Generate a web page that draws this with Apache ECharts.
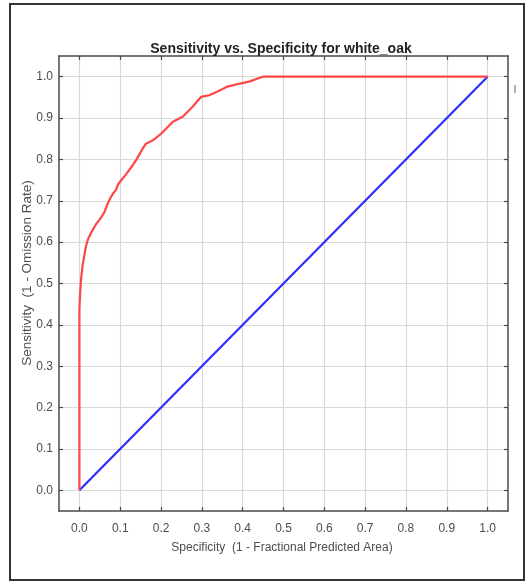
<!DOCTYPE html>
<html>
<head>
<meta charset="utf-8">
<script src="https://cdn.jsdelivr.net/npm/echarts@6/dist/echarts.min.js"></script>
<style>html,body{margin:0;padding:0;background:#fff}#c{width:527px;height:582px}</style>
</head>
<body>
<div id="c"></div>
<script>
const tickValues = [0, 0.1, 0.2, 0.3, 0.4, 0.5, 0.6, 0.7, 0.8, 0.9, 1.0];
const rocX = [0, 0, 0.002, 0.004, 0.008, 0.012, 0.016, 0.021, 0.03, 0.041, 0.05, 0.061, 0.068, 0.075, 0.082, 0.09, 0.095, 0.102, 0.115, 0.127, 0.14, 0.155, 0.163, 0.18, 0.2, 0.229, 0.253, 0.275, 0.298, 0.318, 0.34, 0.363, 0.396, 0.416, 0.449, 1.0];
const rocY = [0, 0.44, 0.48, 0.51, 0.545, 0.567, 0.59, 0.607, 0.625, 0.644, 0.655, 0.672, 0.69, 0.705, 0.717, 0.727, 0.74, 0.749, 0.765, 0.781, 0.80, 0.826, 0.838, 0.846, 0.862, 0.891, 0.903, 0.925, 0.951, 0.955, 0.965, 0.976, 0.984, 0.988, 1.0, 1.0];
const randomX = [0, 1];
const randomY = [0, 1];

const chart = echarts.init(document.getElementById('c'), null, {renderer: 'canvas'});
const axisColor = '#4a4a4a';
const FONT = 'Liberation Sans, Arial, sans-serif';
const labelFont = {color: '#4d4d4d', fontSize: 12, fontFamily: FONT};
function mkAxis(pos, showLabel, showSplit) {
  return {
    type: 'value', position: pos, min: -0.05, max: 1.05,
    axisLine: {show: true, onZero: false, lineStyle: {color: axisColor, width: 1.5}},
    axisTick: {show: true, inside: true, length: 4, customValues: tickValues, lineStyle: {color: axisColor, width: 1.2}},
    axisLabel: {show: showLabel, customValues: tickValues, formatter: v => v.toFixed(1), ...labelFont,
      margin: pos === 'bottom' ? 12 : 6},
    splitLine: {show: showSplit, lineStyle: {color: '#d9d9d9', width: 1.2}}
  };
}
chart.setOption({
  animation: false,
  backgroundColor: '#fff',
  grid: {left: 59, right: 19, top: 56, bottom: 71},
  title: {
    text: 'Sensitivity vs. Specificity for white_oak',
    left: 276, top: 37, textAlign: 'center',
    textStyle: {fontSize: 14, fontWeight: 'bold', color: '#222', fontFamily: FONT}
  },
  xAxis: [mkAxis('bottom', true, true), mkAxis('top', false, false)],
  yAxis: [mkAxis('left', true, true), mkAxis('right', false, false)],
  graphic: [
    {type: 'rect', shape: {x: 10, y: 4, width: 514, height: 576}, style: {fill: 'none', stroke: '#333', lineWidth: 2}, z: 100},
    {type: 'line', shape: {x1: 515, y1: 85, x2: 515, y2: 93}, style: {stroke: '#999', lineWidth: 1.5}},
    {type: 'text', x: 282, y: 548, style: {text: 'Specificity  (1 - Fractional Predicted Area)', fill: '#4d4d4d', fontSize: 12, fontFamily: FONT, textAlign: 'center', textVerticalAlign: 'middle'}},
    {type: 'text', x: 27, y: 273, rotation: Math.PI / 2, style: {text: 'Sensitivity  (1 - Omission Rate)', fill: '#4d4d4d', fontSize: 13.5, fontFamily: FONT, textAlign: 'center', textVerticalAlign: 'middle'}}
  ],
  series: [
    {type: 'line', xAxisIndex: 0, yAxisIndex: 0, showSymbol: false, data: randomX.map((x, i) => [x, randomY[i]]),
      lineStyle: {color: '#2d2dff', width: 2.2}, z: 3},
    {type: 'line', xAxisIndex: 0, yAxisIndex: 0, showSymbol: false, data: rocX.map((x, i) => [x, rocY[i]]),
      lineStyle: {color: '#ff4646', width: 2.2}, z: 4}
  ]
});
</script>
</body>
</html>
